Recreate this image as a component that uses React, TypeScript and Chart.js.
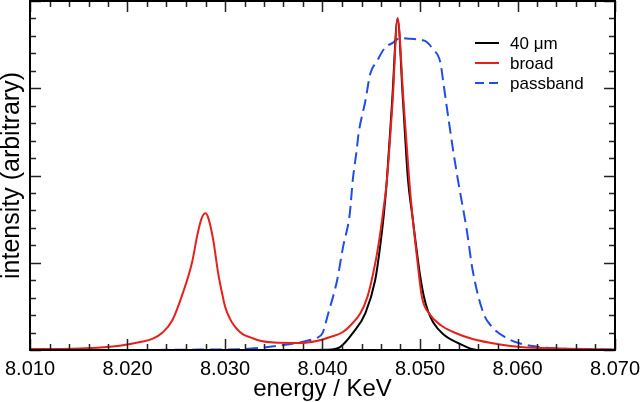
import React, { useEffect, useRef } from "react";
import { Chart, registerables } from "chart.js";

Chart.register(...registerables);

const xTicks = [8.01, 8.02, 8.03, 8.04, 8.05, 8.06, 8.07];

const blackE = [8.010, 8.0370, 8.0405, 8.0418, 8.0431, 8.0444, 8.0454, 8.0459, 8.0463, 8.0466, 8.04715, 8.0477, 8.04825, 8.04877, 8.04918, 8.04959, 8.0500, 8.05041, 8.05082, 8.05133, 8.05236, 8.0539, 8.05585, 8.0700];
const blackI = [0, 0, 0.003, 0.034, 0.194, 0.423, 0.8, 1.177, 1.566, 1.943, 2.866, 3.79, 2.866, 1.948, 1.57, 1.203, 0.86, 0.607, 0.447, 0.321, 0.183, 0.08, 0.0, 0];

const redE = [8.0100, 8.0134, 8.0169, 8.0192, 8.0213, 8.0226, 8.0236, 8.0246, 8.0257, 8.0266, 8.0272, 8.0276, 8.0280, 8.0283, 8.0288, 8.0293, 8.0297, 8.0300, 8.0305, 8.0310, 8.0315, 8.0320, 8.0326, 8.0336, 8.0350, 8.0377, 8.0394, 8.0408, 8.0421, 8.0431, 8.0439, 8.0446, 8.0452, 8.0457, 8.0462, 8.0466, 8.0472, 8.0477, 8.0483, 8.0489, 8.0492, 8.0497, 8.0502, 8.0510, 8.0521, 8.0534, 8.0554, 8.0582, 8.0603, 8.0644, 8.0700];
const redI = [0.011, 0.012, 0.026, 0.049, 0.091, 0.13, 0.2, 0.34, 0.66, 0.994, 1.337, 1.509, 1.566, 1.509, 1.257, 0.88, 0.65, 0.5, 0.36, 0.27, 0.21, 0.17, 0.145, 0.105, 0.085, 0.08, 0.103, 0.149, 0.206, 0.309, 0.423, 0.606, 0.88, 1.177, 1.566, 1.943, 2.87, 3.806, 2.87, 1.943, 1.566, 1.054, 0.606, 0.41, 0.287, 0.206, 0.126, 0.063, 0.034, 0.017, 0.006];

const blueE = [8.010, 8.0200, 8.0244, 8.0274, 8.0319, 8.0360, 8.0374, 8.0387, 8.0394, 8.0400, 8.0406, 8.0415, 8.0421, 8.0428, 8.0431, 8.0435, 8.0437, 8.0444, 8.0449, 8.0456, 8.0464, 8.0472, 8.0480, 8.0490, 8.0505, 8.0513, 8.0521, 8.0524, 8.0528, 8.0531, 8.0534, 8.0539, 8.0548, 8.0554, 8.0565, 8.0574, 8.0589, 8.0601, 8.0623, 8.0654, 8.0700];
const blueI = [0.0, 0.0, 0.002, 0.005, 0.011, 0.057, 0.08, 0.114, 0.137, 0.194, 0.423, 0.8, 1.177, 1.566, 1.943, 2.286, 2.48, 2.857, 3.166, 3.314, 3.463, 3.52, 3.577, 3.566, 3.543, 3.451, 3.291, 3.06, 2.743, 2.514, 2.286, 1.943, 1.371, 0.914, 0.423, 0.263, 0.137, 0.08, 0.034, 0.011, 0.006];

const seriesLabels = ["40 \u03bcm", "broad", "passband"];
const seriesColors = ["#000000", "#e8201c", "#1f4ee6"];
const FONT = "'Liberation Sans', Arial, sans-serif";

const toPts = (xs: number[], ys: number[]) => xs.map((x, i) => ({ x, y: ys[i] }));

const frameTicks = {
  id: "frameTicks",
  afterDatasetsDraw(chart: any) {
    const { ctx, chartArea: a, scales } = chart;
    const xs = scales.x;
    const ys = scales.y;
    ctx.save();
    ctx.strokeStyle = "#222";
    ctx.lineWidth = 1.5;
    for (let k = 0; k <= 30; k++) {
      const v = 8.01 + k * 0.002;
      const px = Math.round(xs.getPixelForValue(v)) + 0.5;
      const len = k % 5 === 0 ? 11 : 6;
      ctx.beginPath();
      ctx.moveTo(px, a.bottom);
      ctx.lineTo(px, a.bottom - len);
      ctx.moveTo(px, a.top);
      ctx.lineTo(px, a.top + len);
      ctx.stroke();
    }
    for (let k = 0; k <= 20; k++) {
      const v = k * 0.2;
      const py = Math.round(ys.getPixelForValue(v)) + 0.5;
      const len = k % 5 === 0 ? 11 : 6;
      ctx.beginPath();
      ctx.moveTo(a.left, py);
      ctx.lineTo(a.left + len, py);
      ctx.moveTo(a.right, py);
      ctx.lineTo(a.right - len, py);
      ctx.stroke();
    }
    ctx.strokeStyle = "#000";
    ctx.lineWidth = 2;
    ctx.strokeRect(a.left, a.top, a.right - a.left, a.bottom - a.top);

    const rows = [43, 63, 83];
    ctx.font = "17px " + FONT;
    ctx.textBaseline = "middle";
    ctx.textAlign = "left";
    [0, 1, 2].forEach((i, r) => {
      const y = rows[r];
      ctx.beginPath();
      ctx.strokeStyle = seriesColors[i];
      ctx.lineWidth = 2;
      ctx.setLineDash(i === 2 ? [9, 5] : []);
      ctx.moveTo(475, y);
      ctx.lineTo(499, y);
      ctx.stroke();
      ctx.setLineDash([]);
      ctx.fillStyle = "#000";
      ctx.fillText(seriesLabels[i], 510, y + 1);
    });
    ctx.restore();
  },
};

export default function App() {
  const ref = useRef<HTMLCanvasElement>(null);
  useEffect(() => {
    document.body.style.margin = "0";
    const line = (i: number, xs: number[], ys: number[], order: number, dash: number[] = []) => ({
      label: seriesLabels[i],
      data: toPts(xs, ys),
      borderColor: seriesColors[i],
      borderWidth: 2,
      borderDash: dash,
      pointRadius: 0,
      cubicInterpolationMode: "monotone",
      order,
    });
    const chart = new Chart(ref.current!, {
      type: "line",
      data: {
        datasets: [
          line(0, blackE, blackI, 1),
          line(1, redE, redI, 0),
          line(2, blueE, blueI, 2, [12, 6]),
        ],
      },
      options: {
        animation: false,
        responsive: false,
        layout: { padding: { top: 1, right: 25, left: 0, bottom: 0 } },
        plugins: { legend: { display: false }, tooltip: { enabled: false } },
        scales: {
          x: {
            type: "linear",
            min: 8.01,
            max: 8.07,
            afterBuildTicks: (s: any) => {
              s.ticks = xTicks.map((v) => ({ value: v }));
            },
            afterFit: (s: any) => {
              s.height = 52;
              s.paddingLeft = 0;
              s.paddingRight = 0;
            },
            grid: { display: false },
            border: { display: false },
            ticks: {
              autoSkip: false,
              maxRotation: 0,
              padding: -1,
              color: "#000",
              font: { size: 20, family: FONT },
              callback: (v: any) => Number(v).toFixed(3),
            },
            title: {
              display: true,
              text: "energy / KeV",
              color: "#000",
              font: { size: 24, family: FONT, lineHeight: 1 },
              padding: { top: 0, bottom: 1 },
            },
          },
          y: {
            type: "linear",
            min: 0,
            max: 4,
            afterFit: (s: any) => {
              s.width = 30;
            },
            grid: { display: false },
            border: { display: false },
            ticks: { display: false },
            title: {
              display: true,
              text: "intensity (arbitrary)",
              color: "#000",
              font: { size: 25, family: FONT, lineHeight: 1 },
              padding: { top: 0, bottom: 0 },
            },
          },
        },
      },
      plugins: [frameTicks],
    } as any);
    return () => chart.destroy();
  }, []);
  return (
    <div style={{ width: 640, height: 402 }}>
      <canvas ref={ref} width={640} height={402} />
    </div>
  );
}
